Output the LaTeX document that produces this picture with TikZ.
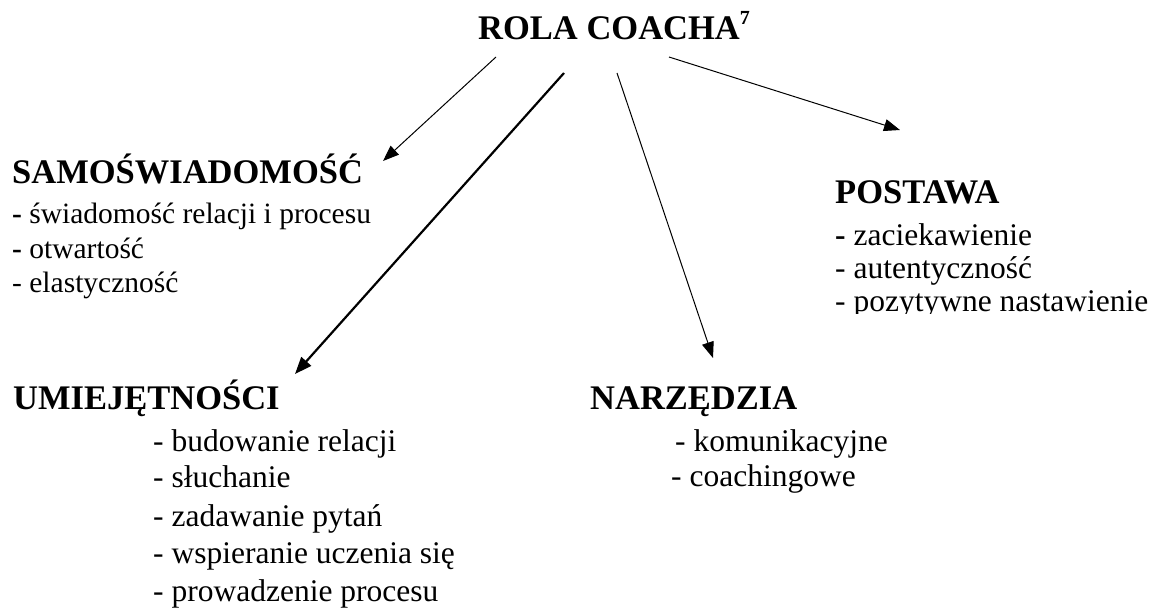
\documentclass[tikz,border=0pt]{standalone}
\usepackage{fontspec}
\setmainfont{Liberation Serif}
\usetikzlibrary{arrows.meta}
\begin{document}
\begin{tikzpicture}[x=1pt,y=-1pt,
  hdr/.style={anchor=base west, inner sep=0pt, font=\fontsize{34.5}{40}\selectfont\bfseries},
  itemA/.style={anchor=base west, inner sep=0pt, font=\fontsize{29.5}{36}\selectfont},
  itemB/.style={anchor=base west, inner sep=0pt, font=\fontsize{31.5}{36}\selectfont},
  conn/.style={-{Triangle[length=16pt,width=12pt]}, line width=1pt},
  connthick/.style={-{Triangle[length=17pt,width=13pt]}, line width=2.2pt}]
\useasboundingbox (0,0) rectangle (1158,608);

% title
\node[hdr] (title) at (478,39) {ROLA COACHA\raisebox{0.42em}{\fontsize{20}{20}\selectfont 7}};

% SAMOSWIADOMOSC
\node[hdr] (samo) at (12,183) {SAMOŚWIADOMOŚĆ};
\node[itemA] (samo1) at (12,223) {\textbf{-} świadomość relacji i procesu};
\node[itemA] (samo2) at (12,258) {\textbf{-} otwartość};
\node[itemA] (samo3) at (12,292) {- elastyczność};

% POSTAWA
\node[hdr] (post) at (835,203) {POSTAWA};
\node[itemB] (post1) at (835,245) {\textbf{-} zaciekawienie};
\node[itemB] (post2) at (835,278) {- autentyczność};
\begin{scope}
\clip (800,280) rectangle (1158,313);
\node[itemB] (post3) at (835,311) {- pozytywne nastawienie};
\end{scope}

% UMIEJETNOSCI
\node[hdr] (umie) at (13,409) {UMIEJĘTNOŚCI};
\node[itemB] (umie1) at (153,451) {- budowanie relacji};
\node[itemB] (umie2) at (153,487) {- słuchanie};
\node[itemB] (umie3) at (153,526) {- zadawanie pytań};
\node[itemB] (umie4) at (153,563) {- wspieranie uczenia się};
\node[itemB] (umie5) at (153,601) {- prowadzenie procesu};

% NARZEDZIA
\node[hdr] (narz) at (590,409) {NARZĘDZIA};
\node[itemB] (narz1) at (675,451) {- komunikacyjne};
\node[itemB] (narz2) at (671,486) {- coachingowe};

% connector end points
\coordinate (a1s) at (496,57);
\coordinate (a1e) at (383,161);
\coordinate (a2s) at (564,73);
\coordinate (a2e) at (295,374);
\coordinate (a3s) at (617,73);
\coordinate (a3e) at (713,358);
\coordinate (a4s) at (669,57);
\coordinate (a4e) at (900,130);

\draw[conn] (a1s) -- (a1e);
\draw[connthick] (a2s) -- (a2e);
\draw[conn] (a3s) -- (a3e);
\draw[conn] (a4s) -- (a4e);
\end{tikzpicture}
\end{document}
